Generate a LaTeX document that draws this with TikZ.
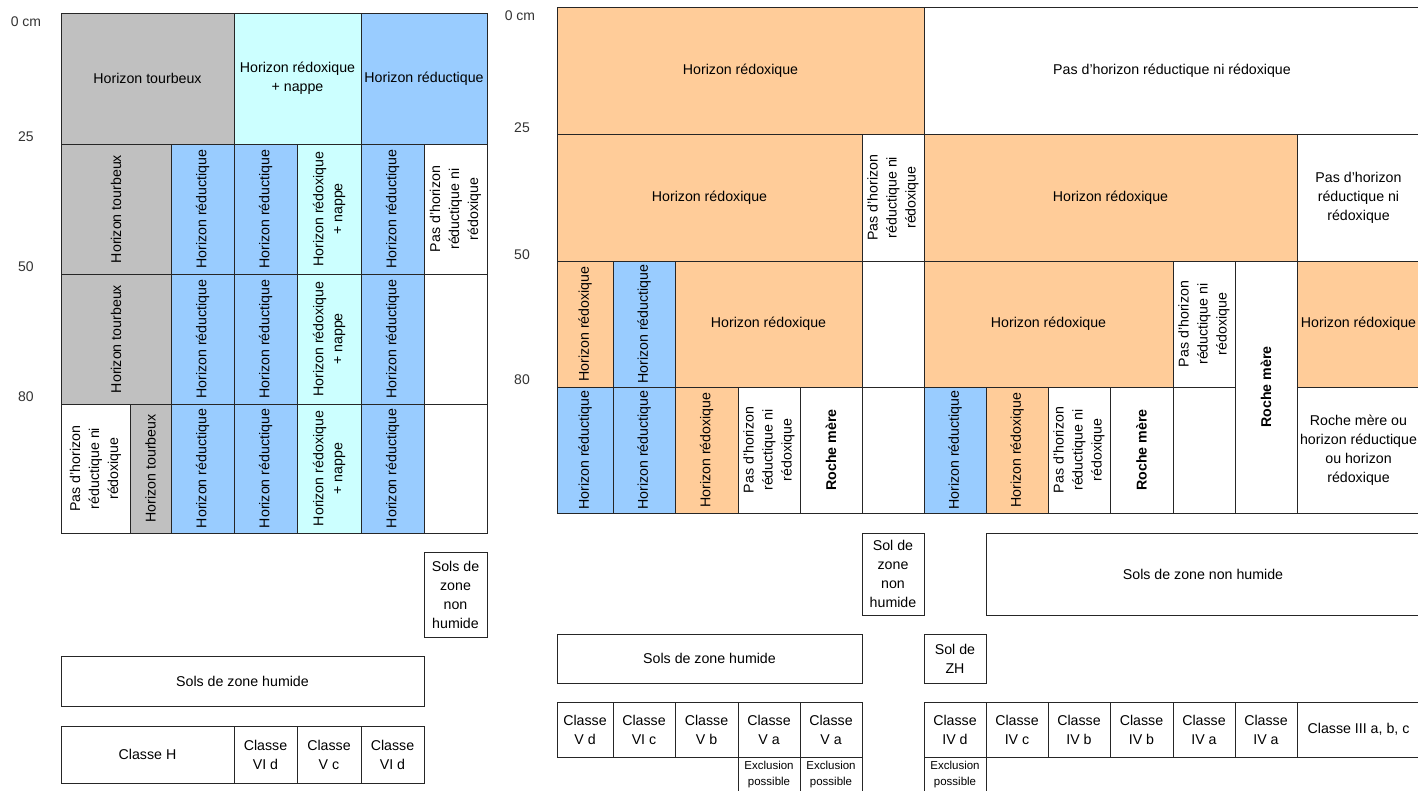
\documentclass[tikz,border=0pt]{standalone}
\usepackage{fontspec}
\setmainfont{Liberation Sans}

\definecolor{gristourbe}{HTML}{C0C0C0}
\definecolor{cyannappe}{HTML}{CCFFFF}
\definecolor{bleured}{HTML}{99CCFF}
\definecolor{orangeredox}{HTML}{FFCC99}

\tikzset{
  cell/.style={draw=black!85, line width=1pt, inner sep=0pt, align=center,
    text=black, font=\fontsize{14.2}{19}\selectfont},
  fgris/.style={fill=gristourbe},
  fcyan/.style={fill=cyannappe},
  fbleu/.style={fill=bleured},
  forange/.style={fill=orangeredox},
  petit/.style={font=\fontsize{11.5}{15.5}\selectfont},
  prof/.style={font=\fontsize{14}{17}\selectfont, text=black!80}
}

% cellule horizontale : nom, x1, y1, x2, y2, style, texte
\newcommand\celluleh[7]{\node[cell,#6,minimum width={#4-#2},minimum height={#5-#3}]
  (#1) at ({(#2+#4)/2},{(#3+#5)/2}) {#7};}
% cellule a texte vertical
\newcommand\cellulev[7]{\node[cell,#6,rotate=90,minimum width={#5-#3},minimum height={#4-#2}]
  (#1) at ({(#2+#4)/2},{(#3+#5)/2}) {#7};}

\begin{document}
\begin{tikzpicture}[x=1pt, y=-1pt]
    \useasboundingbox (0,0) rectangle (1418,790);
    \clip (0,0) rectangle (1418,790);

    % profondeurs
    \node[prof] (pg0) at (26,22) {0 cm};
    \node[prof] (pg25) at (26,137) {25};
    \node[prof] (pg50) at (26,267) {50};
    \node[prof] (pg80) at (26,397) {80};
    \node[prof] (pd0) at (520,16) {0 cm};
    \node[prof] (pd25) at (522,128) {25};
    \node[prof] (pd50) at (522,255) {50};
    \node[prof] (pd80) at (522,380) {80};

    % tableau de gauche
    \celluleh{l11}{61}{13}{234}{144}{fgris}{Horizon tourbeux}
    \celluleh{l12}{234}{13}{361}{144}{fcyan}{Horizon rédoxique\\+ nappe}
    \celluleh{l13}{361}{13}{487}{144}{fbleu}{Horizon réductique}

    \cellulev{l21}{61}{144}{171}{274}{fgris}{Horizon tourbeux}
    \cellulev{l22}{171}{144}{234}{274}{fbleu}{Horizon réductique}
    \cellulev{l23}{234}{144}{297}{274}{fbleu}{Horizon réductique}
    \cellulev{l24}{297}{144}{361}{274}{fcyan}{Horizon rédoxique\\+ nappe}
    \cellulev{l25}{361}{144}{424}{274}{fbleu}{Horizon réductique}
    \cellulev{l26}{424}{144}{487}{274}{}{Pas d'horizon\\réductique ni\\rédoxique}

    \cellulev{l31}{61}{274}{171}{404}{fgris}{Horizon tourbeux}
    \cellulev{l32}{171}{274}{234}{404}{fbleu}{Horizon réductique}
    \cellulev{l33}{234}{274}{297}{404}{fbleu}{Horizon réductique}
    \cellulev{l34}{297}{274}{361}{404}{fcyan}{Horizon rédoxique\\+ nappe}
    \cellulev{l35}{361}{274}{424}{404}{fbleu}{Horizon réductique}
    \cellulev{l36}{424}{274}{487}{404}{}{}

    \cellulev{l41}{61}{404}{130}{533}{}{Pas d'horizon\\réductique ni\\rédoxique}
    \cellulev{l42}{130}{404}{171}{533}{fgris}{Horizon tourbeux}
    \cellulev{l43}{171}{404}{234}{533}{fbleu}{Horizon réductique}
    \cellulev{l44}{234}{404}{297}{533}{fbleu}{Horizon réductique}
    \cellulev{l45}{297}{404}{361}{533}{fcyan}{Horizon rédoxique\\+ nappe}
    \cellulev{l46}{361}{404}{424}{533}{fbleu}{Horizon réductique}
    \cellulev{l47}{424}{404}{487}{533}{}{}

    \celluleh{lnh}{424}{552}{487}{637}{}{Sols de\\zone\\non\\humide}
    \celluleh{lzh}{61}{656}{424}{706}{}{Sols de zone humide}
    \celluleh{lc1}{61}{726}{234}{783}{}{Classe H}
    \celluleh{lc2}{234}{726}{297}{783}{}{Classe\\VI d}
    \celluleh{lc3}{297}{726}{361}{783}{}{Classe\\V c}
    \celluleh{lc4}{361}{726}{424}{783}{}{Classe\\VI d}

    % tableau de droite
    \celluleh{r11}{557}{7}{924}{134}{forange}{Horizon rédoxique}
    \celluleh{r12}{924}{7}{1420}{134}{}{Pas d'horizon réductique ni rédoxique}

    \celluleh{r21}{557}{134}{862}{261}{forange}{Horizon rédoxique}
    \cellulev{r22}{862}{134}{924}{261}{}{Pas d'horizon\\réductique ni\\rédoxique}
    \celluleh{r23}{924}{134}{1297}{261}{forange}{Horizon rédoxique}
    \celluleh{r24}{1297}{134}{1420}{261}{}{Pas d'horizon\\réductique ni\\rédoxique}

    \cellulev{r31}{557}{261}{613}{387}{forange}{Horizon rédoxique}
    \cellulev{r32}{613}{261}{675}{387}{fbleu}{Horizon réductique}
    \celluleh{r33}{675}{261}{862}{387}{forange}{Horizon rédoxique}
    \celluleh{r34}{862}{261}{924}{387}{}{}
    \celluleh{r35}{924}{261}{1173}{387}{forange}{Horizon rédoxique}
    \cellulev{r36}{1173}{261}{1235}{387}{}{Pas d'horizon\\réductique ni\\rédoxique}
    \cellulev{r37}{1235}{261}{1297}{513}{}{\bfseries Roche mère}
    \celluleh{r38}{1297}{261}{1420}{387}{forange}{Horizon rédoxique}

    \cellulev{r41}{557}{387}{613}{513}{fbleu}{Horizon réductique}
    \cellulev{r42}{613}{387}{675}{513}{fbleu}{Horizon réductique}
    \cellulev{r43}{675}{387}{738}{513}{forange}{Horizon rédoxique}
    \cellulev{r44}{738}{387}{800}{513}{}{Pas d'horizon\\réductique ni\\rédoxique}
    \cellulev{r45}{800}{387}{862}{513}{}{\bfseries Roche mère}
    \celluleh{r46}{862}{387}{924}{513}{}{}
    \cellulev{r47}{924}{387}{986}{513}{fbleu}{Horizon réductique}
    \cellulev{r48}{986}{387}{1048}{513}{forange}{Horizon rédoxique}
    \cellulev{r49}{1048}{387}{1110}{513}{}{Pas d'horizon\\réductique ni\\rédoxique}
    \cellulev{r410}{1110}{387}{1173}{513}{}{\bfseries Roche mère}
    \celluleh{r411}{1173}{387}{1235}{513}{}{}
    \celluleh{r412}{1297}{387}{1420}{513}{}{Roche mère ou\\horizon réductique\\ou horizon\\rédoxique}

    \celluleh{rnh1}{862}{533}{924}{615}{}{Sol de\\zone\\non\\humide}
    \celluleh{rnh2}{986}{533}{1420}{615}{}{Sols de zone non humide}
    \celluleh{rzh1}{557}{634}{862}{683}{}{Sols de zone humide}
    \celluleh{rzh2}{924}{634}{986}{683}{}{Sol de\\ZH}

    \celluleh{rc1}{557}{702}{613}{757}{}{Classe\\V d}
    \celluleh{rc2}{613}{702}{675}{757}{}{Classe\\VI c}
    \celluleh{rc3}{675}{702}{738}{757}{}{Classe\\V b}
    \celluleh{rc4}{738}{702}{800}{757}{}{Classe\\V a}
    \celluleh{rc5}{800}{702}{862}{757}{}{Classe\\V a}
    \celluleh{rc6}{924}{702}{986}{757}{}{Classe\\IV d}
    \celluleh{rc7}{986}{702}{1048}{757}{}{Classe\\IV c}
    \celluleh{rc8}{1048}{702}{1110}{757}{}{Classe\\IV b}
    \celluleh{rc9}{1110}{702}{1173}{757}{}{Classe\\IV b}
    \celluleh{rc10}{1173}{702}{1235}{757}{}{Classe\\IV a}
    \celluleh{rc11}{1235}{702}{1297}{757}{}{Classe\\IV a}
    \celluleh{rc12}{1297}{702}{1420}{757}{}{Classe III a, b, c}

    \celluleh{rx1}{738}{757}{800}{792}{petit}{Exclusion\\possible}
    \celluleh{rx2}{800}{757}{862}{792}{petit}{Exclusion\\possible}
    \celluleh{rx3}{924}{757}{986}{792}{petit}{Exclusion\\possible}
  \end{tikzpicture}
\end{document}
